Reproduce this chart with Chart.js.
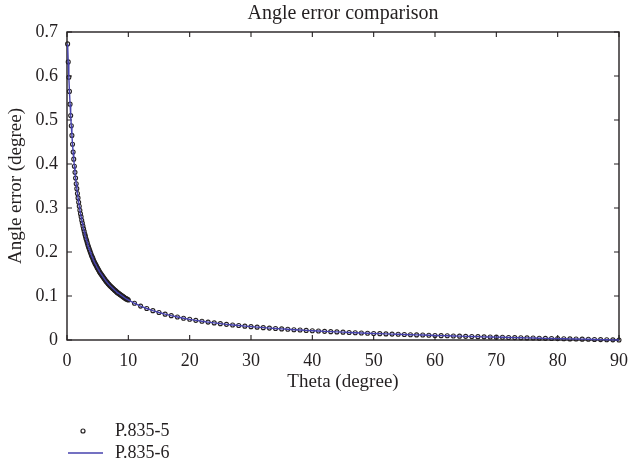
<!DOCTYPE html>
<html>
<head>
<meta charset="utf-8">
<script src="https://cdn.jsdelivr.net/npm/chart.js@4/dist/chart.umd.min.js"></script>
<style>
  body { margin: 0; background: #fff; }
  #wrap { width: 631px; height: 468px; }
</style>
</head>
<body>
<div id="wrap"><canvas id="chart"></canvas></div>
<script>
// theta (degree), fine steps up to 10 then 1 degree steps
const thetaFine = [0.1,0.2,0.3,0.4,0.5,0.6,0.7,0.8,0.9,1.0,
  1.1,1.2,1.3,1.4,1.5,1.6,1.7,1.8,1.9,2.0,
  2.1,2.2,2.3,2.4,2.5,2.6,2.7,2.8,2.9,3.0,
  3.1,3.2,3.3,3.4,3.5,3.6,3.7,3.8,3.9,4.0,
  4.1,4.2,4.3,4.4,4.5,4.6,4.7,4.8,4.9,5.0,
  5.1,5.2,5.3,5.4,5.5,5.6,5.7,5.8,5.9,6.0,
  6.1,6.2,6.3,6.4,6.5,6.6,6.7,6.8,6.9,7.0,
  7.1,7.2,7.3,7.4,7.5,7.6,7.7,7.8,7.9,8.0,
  8.1,8.2,8.3,8.4,8.5,8.6,8.7,8.8,8.9,9.0,
  9.1,9.2,9.3,9.4,9.5,9.6,9.7,9.8,9.9,10.0];
const errFine = [0.673,0.632,0.597,0.565,0.536,0.510,0.487,0.465,0.445,0.427,
  0.411,0.395,0.381,0.368,0.355,0.344,0.333,0.323,0.313,0.304,
  0.295,0.287,0.280,0.272,0.266,0.259,0.253,0.247,0.241,0.236,
  0.230,0.226,0.221,0.216,0.212,0.208,0.204,0.200,0.196,0.192,
  0.189,0.186,0.182,0.179,0.176,0.173,0.171,0.168,0.165,0.163,
  0.160,0.158,0.155,0.153,0.151,0.149,0.147,0.145,0.143,0.141,
  0.139,0.137,0.135,0.133,0.132,0.130,0.128,0.127,0.125,0.124,
  0.122,0.121,0.120,0.118,0.117,0.116,0.114,0.113,0.112,0.111,
  0.109,0.108,0.107,0.106,0.105,0.104,0.103,0.102,0.101,0.100,
  0.099,0.098,0.097,0.096,0.095,0.094,0.093,0.093,0.092,0.091];
const thetaCoarse = [11,12,13,14,15,16,17,18,19,20,
  21,22,23,24,25,26,27,28,29,30,
  31,32,33,34,35,36,37,38,39,40,
  41,42,43,44,45,46,47,48,49,50,
  51,52,53,54,55,56,57,58,59,60,
  61,62,63,64,65,66,67,68,69,70,
  71,72,73,74,75,76,77,78,79,80,
  81,82,83,84,85,86,87,88,89,90];
const errCoarse = [0.0835,0.0771,0.0716,0.0667,0.0625,0.0587,0.0553,0.0523,0.0495,0.0470,
  0.0447,0.0426,0.0407,0.0389,0.0372,0.0356,0.0342,0.0328,0.0315,0.0303,
  0.0292,0.0281,0.0271,0.0261,0.0252,0.0243,0.0234,0.0226,0.0218,0.0211,
  0.0204,0.0197,0.0190,0.0184,0.0178,0.0172,0.0166,0.0160,0.0155,0.0149,
  0.0144,0.0139,0.0134,0.0130,0.0125,0.0120,0.0116,0.0112,0.0107,0.0103,
  0.0099,0.0095,0.0091,0.0087,0.0083,0.0080,0.0076,0.0072,0.0069,0.0065,
  0.0062,0.0058,0.0055,0.0051,0.0048,0.0045,0.0041,0.0038,0.0035,0.0032,
  0.0028,0.0025,0.0022,0.0019,0.0016,0.0013,0.0009,0.0006,0.0003,0];

const theta = thetaFine.concat(thetaCoarse);
const errP8355 = errFine.concat(errCoarse);
const errP8356 = errP8355; // both curves lie on top of each other

const seriesNames = ['P.835-5', 'P.835-6'];
const xTicks = [0, 10, 20, 30, 40, 50, 60, 70, 80, 90];
const yTicks = [0, 0.1, 0.2, 0.3, 0.4, 0.5, 0.6, 0.7];

const FONT = "'Liberation Serif', 'DejaVu Serif', serif";
const INK = '#231f20';
const BLUE = '#4642ae';

function toPoints(xs, ys) {
  return xs.map((x, i) => ({x: x, y: ys[i]}));
}

// frame round the plot with inward ticks on every side
const frameTicks = {
  id: 'frameTicks',
  beforeDatasetsDraw(chart) {
    const {ctx, chartArea: a, scales: {x, y}} = chart;
    ctx.save();
    ctx.strokeStyle = INK;
    ctx.lineWidth = 1.4;
    ctx.strokeRect(a.left, a.top, a.right - a.left, a.bottom - a.top);
    ctx.lineWidth = 1.1;
    ctx.beginPath();
    xTicks.forEach(v => {
      const px = x.getPixelForValue(v);
      ctx.moveTo(px, a.bottom); ctx.lineTo(px, a.bottom - 5);
      ctx.moveTo(px, a.top); ctx.lineTo(px, a.top + 5);
    });
    yTicks.forEach(v => {
      const py = y.getPixelForValue(v);
      ctx.moveTo(a.left, py); ctx.lineTo(a.left + 5, py);
      ctx.moveTo(a.right, py); ctx.lineTo(a.right - 5, py);
    });
    ctx.stroke();
    ctx.restore();
  }
};

// legend stacked in two rows under the x axis title
const stackedLegend = {
  id: 'stackedLegend',
  afterDraw(chart) {
    const {ctx, chartArea: a} = chart;
    const x0 = a.left;
    const y0 = chart.height - 37;
    ctx.save();
    ctx.font = '18px ' + FONT;
    ctx.fillStyle = INK;
    ctx.textBaseline = 'middle';
    chart.data.datasets.forEach((ds, i) => {
      const yy = y0 + i * 22;
      if (ds.showLine === false) {
        ctx.beginPath();
        ctx.arc(x0 + 16, yy, 2, 0, Math.PI * 2);
        ctx.strokeStyle = INK;
        ctx.lineWidth = 1.2;
        ctx.stroke();
      } else {
        ctx.beginPath();
        ctx.moveTo(x0 + 1, yy);
        ctx.lineTo(x0 + 36, yy);
        ctx.strokeStyle = ds.borderColor;
        ctx.lineWidth = 1.4;
        ctx.stroke();
      }
      ctx.fillText(ds.label, x0 + 48, yy);
    });
    ctx.restore();
  }
};

new Chart(document.getElementById('chart'), {
  type: 'scatter',
  data: {
    datasets: [{
      label: seriesNames[0],
      data: toPoints(theta, errP8355),
      showLine: false,
      pointStyle: 'circle',
      pointRadius: 2,
      pointBorderWidth: 1.1,
      pointBorderColor: INK,
      pointBackgroundColor: 'rgba(255,255,255,0)',
      order: 2,
      clip: 6
    }, {
      label: seriesNames[1],
      data: toPoints(theta, errP8356),
      showLine: true,
      borderColor: BLUE,
      borderWidth: 1.4,
      pointRadius: 0,
      tension: 0,
      order: 1,
      clip: 6
    }]
  },
  options: {
    responsive: true,
    maintainAspectRatio: false,
    animation: false,
    layout: { padding: { left: 0, right: 0, top: 0, bottom: 75 } },
    plugins: {
      legend: { display: false },
      tooltip: { enabled: false },
      title: {
        display: true,
        text: 'Angle error comparison',
        fullSize: false,
        color: INK,
        font: { family: FONT, size: 20, weight: 'normal', lineHeight: 1.2 },
        padding: { top: 2, bottom: 6 }
      }
    },
    scales: {
      x: {
        type: 'linear',
        min: 0,
        max: 90,
        afterFit(s) { s.height = 53; s.paddingRight = 12; s.paddingLeft = 0; },
        afterBuildTicks(s) { s.ticks = xTicks.map(v => ({value: v})); },
        grid: { display: false, drawTicks: false },
        border: { display: false },
        ticks: { color: INK, padding: 10, maxRotation: 0, font: { family: FONT, size: 18 } },
        title: {
          display: true,
          text: 'Theta (degree)',
          color: INK,
          font: { family: FONT, size: 19 },
          padding: { top: 0, bottom: 0 }
        }
      },
      y: {
        type: 'linear',
        min: 0,
        max: 0.7,
        afterFit(s) { s.width = 67; },
        afterBuildTicks(s) { s.ticks = yTicks.map(v => ({value: v})); },
        grid: { display: false, drawTicks: false },
        border: { display: false },
        ticks: { color: INK, padding: 9, font: { family: FONT, size: 18 } },
        title: {
          display: true,
          text: 'Angle error (degree)',
          color: INK,
          font: { family: FONT, size: 19 },
          padding: { top: 5, bottom: 0 }
        }
      }
    }
  },
  plugins: [frameTicks, stackedLegend]
});
</script>
</body>
</html>
